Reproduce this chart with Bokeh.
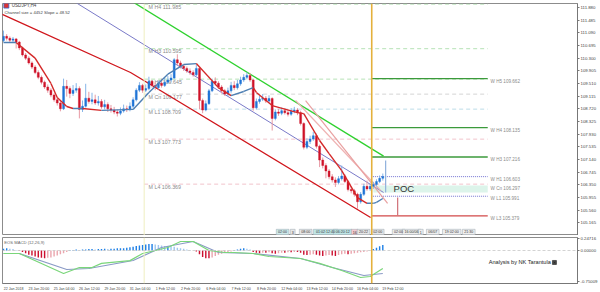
from bokeh.plotting import figure
from bokeh.layouts import column
from bokeh.models import ColumnDataSource, FixedTicker, NumeralTickFormatter, Label, Range1d, Span
from bokeh.core.properties import value
from bokeh.embed import file_html
from bokeh.resources import INLINE

FONT = "Liberation Sans"

# ---------------- data ----------------
first_open = 110.85
close = [110.98, 110.92, 110.86, 110.90, 110.80, 110.62, 110.40, 110.30, 110.15, 110.02,
         109.85, 109.70, 109.55, 109.40, 109.30, 109.15, 109.00, 108.90, 108.72, 109.42,
         109.35, 109.20, 109.30, 109.35, 108.70, 108.80, 109.05, 108.95, 109.00, 108.90,
         108.95, 108.78, 108.85, 108.72, 108.68, 108.62, 108.58, 108.65, 108.72, 108.70,
         108.80, 109.00, 109.30, 109.45, 109.30, 109.35, 109.58, 109.45, 109.38, 109.52,
         109.45, 109.55, 109.62, 109.68, 110.25, 110.15, 110.05, 109.98, 109.90, 109.85,
         109.78, 109.98, 108.98, 108.68, 108.88, 109.28, 109.58, 109.52, 109.40, 109.28,
         109.18, 109.28, 109.45, 109.38, 109.50, 109.62, 109.70, 109.76, 109.62, 108.75,
         108.95, 109.02, 109.05, 108.96, 109.04, 108.42, 108.62, 108.58, 108.66, 108.60,
         108.55, 108.64, 108.68, 108.60, 108.26, 107.52, 107.70, 107.78, 107.88, 107.55,
         107.12, 106.95, 106.78, 106.60, 106.50, 106.42, 106.54, 106.62, 106.45, 106.20,
         106.16, 106.05, 105.82, 106.05, 106.30, 106.22, 106.30, 106.36, 106.45, 106.55,
         106.609]
high = [111.16, 111.05, 110.98, 110.96, 110.93, 110.84, 110.66, 110.46, 110.36, 110.20,
        110.08, 109.92, 109.76, 109.60, 109.48, 109.36, 109.20, 109.08, 108.96, 109.66,
        109.62, 109.42, 109.46, 109.52, 109.42, 108.98, 109.50, 109.25, 109.22, 109.16,
        109.12, 109.02, 109.00, 108.92, 108.84, 108.78, 108.70, 108.76, 108.85, 108.82,
        108.92, 109.08, 109.36, 109.55, 109.50, 109.48, 109.72, 109.62, 109.55, 109.60,
        109.66, 109.68, 109.74, 109.80, 110.30, 110.42, 110.22, 110.12, 110.04, 109.98,
        109.92, 110.10, 110.02, 109.04, 108.98, 109.34, 109.66, 109.70, 109.58, 109.46,
        109.34, 109.38, 109.56, 109.58, 109.62, 109.72, 109.80, 109.86, 109.84, 109.66,
        109.04, 109.12, 109.18, 109.12, 109.14, 109.08, 108.70, 108.72, 108.76, 108.74,
        108.68, 108.74, 108.78, 108.74, 108.66, 108.30, 107.80, 107.88, 108.00, 107.95,
        107.60, 107.20, 107.02, 106.84, 106.68, 106.58, 106.62, 106.95, 106.68, 106.50,
        106.30, 106.22, 106.10, 106.12, 106.38, 106.48, 106.38, 106.44, 106.52, 106.64,
        106.70]
low = [110.80, 110.85, 110.80, 110.78, 110.60, 110.55, 110.35, 110.24, 110.10, 109.96,
       109.80, 109.64, 109.48, 109.34, 109.22, 109.08, 108.94, 108.82, 108.64, 108.68,
       109.10, 109.05, 109.12, 109.22, 108.42, 108.62, 108.76, 108.88, 108.86, 108.84,
       108.82, 108.72, 108.70, 108.62, 108.60, 108.55, 108.48, 108.52, 108.60, 108.62,
       108.64, 108.74, 108.95, 109.24, 109.22, 109.24, 109.30, 109.38, 109.30, 109.32,
       109.38, 109.40, 109.50, 109.56, 109.64, 110.08, 109.98, 109.90, 109.84, 109.78,
       109.72, 109.74, 108.70, 108.58, 108.64, 108.84, 109.24, 109.44, 109.34, 109.20,
       109.12, 109.12, 109.22, 109.30, 109.32, 109.44, 109.56, 109.64, 109.56, 108.66,
       108.70, 108.88, 108.96, 108.90, 108.90, 108.04, 108.36, 108.50, 108.52, 108.54,
       108.48, 108.50, 108.58, 108.52, 108.20, 107.45, 107.46, 107.62, 107.72, 107.48,
       106.90, 106.86, 106.55, 106.52, 106.42, 106.28, 106.36, 106.48, 106.40, 106.14,
       106.08, 105.98, 105.60, 105.76, 106.00, 106.16, 106.16, 106.22, 106.30, 106.40,
       106.48]

# moving average (colored by direction)
ma_idx = [0, 4, 10, 15, 17, 20, 22, 25, 31, 41, 46, 52, 57, 61, 68, 72, 76, 79, 80, 85,
          93, 95, 100, 103, 107, 112, 115, 117, 118, 120]
ma_val = [110.79, 110.79, 110.30, 109.51, 109.07, 108.79, 108.73, 108.73, 108.67, 108.70,
          109.23, 109.80, 110.10, 110.13, 109.38, 109.13, 109.26, 109.38, 109.23, 108.82,
          108.60, 108.57, 107.73, 107.32, 106.79, 105.95, 105.77, 105.77, 105.80, 105.92]

# regression channel (bar index, price)
chan_green_x = [40.19, 120.25]
chan_green_y = [112.098, 107.244]
chan_mid_x = [21.84, 120.25]
chan_mid_y = [112.098, 106.108]
chan_low_x = [-0.95, 40.19, 116.14]
chan_low_y = [111.693, 109.852, 105.328]
fan1_x = [92.41, 119.30]
fan1_y = [108.978, 106.170]
fan2_x = [95.57, 121.52]
fan2_y = [108.978, 105.765]

# monthly pivots
m_names = ["M H4 111.985", "M H3 110.595", "M H1 109.645", "M Cn 109.177",
           "M L1 108.709", "M L3 107.773", "M L4 106.369"]
m_vals = [111.985, 110.595, 109.645, 109.177, 108.709, 107.773, 106.369]
m_cols = ["#b6e2b6", "#b6e2b6", "#b6e2b6", "#d4d4d4", "#bcdde8", "#f1c3cb", "#f1c3cb"]

# weekly pivots
w_names = ["W H5 109.662", "W H4 108.135", "W H3 107.216", "W H1 106.603",
           "W Cn  106.297", "W L1 105.991", "W L3 105.379"]
w_vals = [109.662, 108.135, 107.216, 106.603, 106.297, 105.991, 105.379]
poc_top, poc_bottom = 106.33, 106.11

# daily range markers
dr_blue = [107.106, 106.108]
dr_red = [105.952, 105.390]

price_ticks = [111.880, 111.485, 111.090, 110.695, 110.300, 109.905, 109.510, 109.115,
               108.720, 108.325, 107.930, 107.535, 107.140, 106.745, 106.350, 105.955,
               105.560, 105.165]
last_price = 106.609

# MACD
hist = [0.04, 0.05, 0.04, 0.03, 0.01, -0.01,
        -0.03, -0.06, -0.09, -0.11, -0.13, -0.15, -0.16, -0.17,
        -0.16, -0.15, -0.13, -0.11, -0.08, -0.06, -0.03,
        0.01, 0.01, 0.02, 0.01, 0.02, 0.02, 0.03, 0.03, 0.02, 0.03, 0.03, 0.04, 0.03, 0.04,
        0.04, 0.05, 0.05, 0.05, 0.06,
        0.07, 0.08, 0.10, 0.11, 0.12, 0.13, 0.14, 0.14, 0.13, 0.12,
        0.11, 0.10, 0.10, 0.09, 0.08, 0.06, 0.05, 0.04, 0.02, 0.01,
        0.00, -0.02,
        -0.08, -0.14, -0.17, -0.17, -0.15,
        -0.12, -0.09, -0.07, -0.05, -0.03, -0.02,
        0.01, 0.02, 0.04, 0.05, 0.04, 0.02,
        -0.03, -0.05, -0.06, -0.05, -0.05, -0.04,
        -0.06, -0.07, -0.06, -0.05, -0.05, -0.04, -0.04, -0.03, -0.03, -0.05, -0.09, -0.10,
        -0.09, -0.08, -0.09,
        -0.11, -0.12, -0.11, -0.10, -0.11, -0.12, -0.10, -0.08, -0.07, -0.08, -0.07, -0.06,
        -0.05, -0.04, -0.03, -0.02, -0.01,
        0.03, 0.06, 0.09, 0.12]
macd_idx = [0, 5, 19, 24, 28, 31, 40, 44, 52, 56, 60, 65, 70, 73, 79, 84, 94, 100, 107,
            113, 116, 118, 120]
macd_val = [-0.065, -0.065, -0.50, -0.37, -0.37, -0.28, -0.22, -0.065, 0.065, 0.196, 0.196,
            0.0, -0.043, -0.043, -0.065, -0.13, -0.174, -0.28, -0.435, -0.587, -0.565,
            -0.478, -0.39]
signal_idx = [0, 5, 20, 27, 41, 50, 60, 68, 79, 94, 104, 114, 120]
signal_val = [-0.065, -0.065, -0.413, -0.391, -0.217, 0.065, 0.196, -0.043, -0.065, -0.174,
              -0.37, -0.543, -0.50]
macd_tick_pos = [0.261, 0.0, -0.674]
macd_tick_txt = ["0.24716", "0.00000", "-0.75009"]

date_idx = [0, 8, 16, 24, 32, 40, 48, 56, 64, 72, 80, 88, 96, 104, 112, 120]
date_txt = ["22 Jan 2018", "23 Jan 20:00", "25 Jan 04:00", "26 Jan 12:00", "29 Jan 20:00",
            "31 Jan 04:00", "1 Feb 12:00", "2 Feb 20:00", "6 Feb 04:00", "7 Feb 12:00",
            "8 Feb 20:00", "12 Feb 04:00", "13 Feb 12:00", "14 Feb 20:00", "16 Feb 04:00",
            "19 Feb 12:00"]
month_sep = 44.5
week_sep = 116.5

# session boxes along bottom of price panel
box_idx = [88.3, 91.5, 95.6, 101.9, 107.3, 111.1, 113.9, 118.4, 125.0, 129.1, 132.0,
           135.8, 141.8, 147.2]
box_txt = ["02:00", "3", "08:00", "01:02:12:40", "06:20:12", "16", "20:22", "02:00",
           "02:00", "16:00/06", "1", "06/07", "19 02:00", "21:30"]
box_col = ["#cdeaea", "#e6e6e6", "#e6e6e6", "#bfe6e6", "#bfe6e6", "#f3c9cf", "#e6e6e6",
           "#e6e6e6", "#eeeeee", "#eeeeee", "#eeeeee", "#eeeeee", "#eeeeee", "#eeeeee"]

# ---------------- figures ----------------
XR = Range1d(-0.32, 181.6)
n = len(close)
idx = list(range(n))
open_ = [first_open] + close[:-1]
BULL, BEAR = "#1f74d6", "#cf1228"
BULL_W, BEAR_W = "#86b5e8", "#e89aa4"
col = [BULL if c >= o else BEAR for o, c in zip(open_, close)]
wcol = [BULL_W if c >= o else BEAR_W for o, c in zip(open_, close)]

p = figure(frame_width=575, frame_height=232, x_range=XR, y_range=Range1d(104.766, 112.005),
           x_axis_location=None, y_axis_location="right", toolbar_location=None,
           output_backend="svg", min_border_left=2, min_border_top=3, min_border_bottom=0,
           min_border_right=0, outline_line_color="#8c8c8c", background_fill_color="white")
p.grid.visible = False
ya = p.yaxis[0]
ya.ticker = FixedTicker(ticks=price_ticks)
ya.formatter = NumeralTickFormatter(format="0.000")
ya.major_label_text_font_size = "4.3px"
ya.major_label_text_font = FONT
ya.major_label_text_color = "#444"
ya.major_tick_out = 2
ya.major_tick_in = 0
ya.minor_tick_out = 0
ya.minor_tick_in = 0
ya.major_label_standoff = 1
ya.axis_line_color = "#777"
ya.major_tick_line_color = "#777"

for loc, c, w in [(month_sep, "#efeec0", 1), (week_sep, "#e4b13c", 1.6)]:
    p.add_layout(Span(location=loc, dimension="height", line_color=c, line_width=w))

# monthly pivot dashed lines
p.segment(x0=[month_sep] * len(m_vals), x1=[153.2] * len(m_vals), y0=m_vals, y1=m_vals,
          line_color=m_cols, line_width=1, line_dash="4 3")
p.text(x=[45.9] * len(m_vals), y=m_vals, text=m_names, text_font=value(FONT),
       text_font_size="5.3px", text_color="#8a8a8a", text_baseline="middle", y_offset=2.5)

# POC band
p.quad(left=[117], right=[153.2], top=[poc_top], bottom=[poc_bottom], fill_color="#dcf4ea",
       line_color=None)

# weekly pivots
wst = [116.3] * len(w_vals)
wen = [153.2] * len(w_vals)
p.segment(x0=wst[:3], x1=wen[:3], y0=w_vals[:3], y1=w_vals[:3], line_color="#3b9a3b",
          line_width=1.3)
p.segment(x0=[wst[3], wst[5]], x1=[wen[3], wen[5]], y0=[w_vals[3], w_vals[5]],
          y1=[w_vals[3], w_vals[5]], line_color="#6464cc", line_width=0.9, line_dash="1 1")
p.segment(x0=wst[6:], x1=wen[6:], y0=w_vals[6:], y1=w_vals[6:], line_color="#d24848",
          line_width=1.3)
p.text(x=[154.1] * len(w_vals), y=w_vals, text=w_names, text_font=value(FONT),
       text_font_size="4.6px", text_color="#8a8a8a", text_baseline="middle", y_offset=2.5)

# channel
p.line(chan_mid_x, chan_mid_y, line_color="#7a7ac8", line_width=1)
p.line(chan_green_x, chan_green_y, line_color="#2ed12e", line_width=1.3)
p.line(chan_low_x, chan_low_y, line_color="#d0161c", line_width=1.3)
p.line(fan1_x, fan1_y, line_color="#efb3b3", line_width=1.2)
p.line(fan2_x, fan2_y, line_color="#e9a0a0", line_width=1.2)

# candles
src = ColumnDataSource(dict(x=idx, h=high, l=low, top=[max(a, b) for a, b in zip(open_, close)],
                            bot=[min(a, b) for a, b in zip(open_, close)], col=col, wcol=wcol))
p.segment(x0="x", x1="x", y0="h", y1="l", line_color="wcol", line_width=1, source=src)
p.vbar(x="x", width=0.62, top="top", bottom="bot", fill_color="col", line_color="col",
       line_width=0.4, source=src)

# moving average coloured by direction
mx0, mx1, my0, my1 = ma_idx[:-1], ma_idx[1:], ma_val[:-1], ma_val[1:]
mcol = ["#d42828" if b < a else "#4d7fb3" for a, b in zip(my0, my1)]
p.segment(x0=mx0, x1=mx1, y0=my0, y1=my1, line_color=mcol, line_width=1.4)

# daily range markers
p.segment(x0=[120.9], x1=[120.9], y0=[dr_blue[0]], y1=[dr_blue[1]], line_color="#8fb0dc",
          line_width=1.2)
p.segment(x0=[124.7], x1=[124.7], y0=[dr_red[0]], y1=[dr_red[1]], line_color="#d07078",
          line_width=1.2)

p.text(x=[123.4], y=[106.248], text=["POC"], text_font=value(FONT), text_font_size="9.5px",
       text_color="#333333", text_baseline="middle")

# session boxes
bw = [len(t) * 0.62 + 0.9 for t in box_txt]
p.rect(x=box_idx, y=[104.875] * len(box_idx), width=bw, height=0.17, fill_color=box_col,
       line_color="#9aa6b0", line_width=0.5)
p.text(x=box_idx, y=[104.875] * len(box_idx), text=box_txt, text_font=value(FONT),
       text_font_size="3.6px", text_color="#333", text_align="center", text_baseline="middle")

# header
p.scatter(x=[0.9], y=[111.94], marker="square", size=5, fill_color="#d33", line_color="#36c",
          line_width=0.8)
p.text(x=[2.6], y=[111.94], text=["USDJPY,H4"], text_font=value(FONT), text_font_size="4.6px",
       text_color="#444", text_baseline="middle")
p.text(x=[0.3], y=[111.724], text=["Channel size = 4452 Slope = 48.52"], text_font=value(FONT),
       text_font_size="4.2px", text_color="#444", text_baseline="middle")

# current price tag on the price scale
p.add_layout(Label(x=181.6, y=last_price, text="106.609", text_font=FONT,
                   text_font_size="4.3px", text_color="white", text_baseline="middle",
                   background_fill_color="black", x_offset=1))

# ---------------- MACD panel ----------------
q = figure(frame_width=575, frame_height=46, x_range=XR, y_range=Range1d(-0.717, 0.2826),
           y_axis_location="right", toolbar_location=None, output_backend="svg",
           min_border_left=2, min_border_top=2, min_border_bottom=1, min_border_right=0,
           outline_line_color="#8c8c8c")
q.grid.visible = False
for loc, c, w in [(month_sep, "#efeec0", 1), (week_sep, "#e4b13c", 1.6)]:
    q.add_layout(Span(location=loc, dimension="height", line_color=c, line_width=w))
q.add_layout(Span(location=0, dimension="width", line_color="#c8c8c8", line_width=0.8,
                  line_dash="3 2"))

hcol = []
for k, v in enumerate(hist):
    prev = hist[k - 1] if k > 0 else 0
    if v >= 0:
        hcol.append("#1f80e6" if v >= prev else "#9fc7ef")
    else:
        hcol.append("#cc1030" if v <= prev else "#eaa6ae")
q.vbar(x=idx, width=0.45, top=hist, bottom=0, fill_color=hcol, line_color=None)
q.line(signal_idx, signal_val, line_color="#8a9ac6", line_width=1.2)
q.line(macd_idx, macd_val, line_color="#7ad67a", line_width=1.2)

q.text(x=[0.2], y=[0.17], text=["EOS MACD (12,26,9)"], text_font=value(FONT),
       text_font_size="4.2px", text_color="#666", text_baseline="middle")
q.text(x=[153.5], y=[-0.26], text=["Analysis by NK Tarantula"], text_font=value(FONT),
       text_font_size="5.6px", text_color="#222", text_baseline="middle")
q.scatter(x=[174.3], y=[-0.26], marker="square_dot", size=4, fill_color="#444",
          line_color="#222", line_width=0.6)

qa = q.yaxis[0]
qa.ticker = FixedTicker(ticks=macd_tick_pos)
qa.major_label_overrides = {t: s for t, s in zip(macd_tick_pos, macd_tick_txt)}
qa.major_label_text_font_size = "4.3px"
qa.major_label_text_font = FONT
qa.major_label_text_color = "#444"
qa.major_tick_out = 2
qa.major_tick_in = 0
qa.minor_tick_out = 0
qa.minor_tick_in = 0
qa.major_label_standoff = 1
qa.axis_line_color = "#777"
qa.major_tick_line_color = "#777"

xa = q.xaxis[0]
tick_pos = [round(i + 3.2, 1) for i in date_idx]
xa.ticker = FixedTicker(ticks=tick_pos)
xa.major_label_overrides = {t: s for t, s in zip(tick_pos, date_txt)}
xa.major_label_text_font_size = "3.6px"
xa.major_label_text_font = FONT
xa.major_label_text_color = "#444"
xa.major_tick_out = 0
xa.major_tick_in = 0
xa.minor_tick_out = 0
xa.minor_tick_in = 0
xa.major_label_standoff = 3
xa.axis_line_color = "#777"

layout = column(p, q, spacing=0)
open("out.html", "w").write(file_html(layout, INLINE))
